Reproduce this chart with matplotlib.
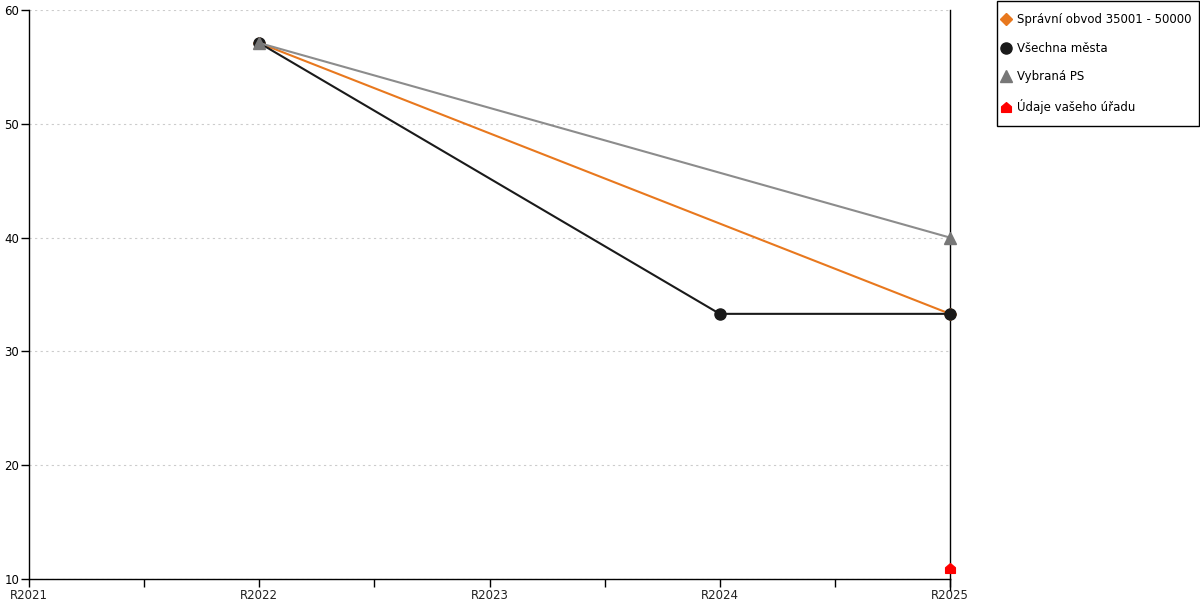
import numpy as np
import matplotlib.pyplot as plt
from matplotlib.path import Path
from matplotlib.patches import Rectangle

years = [2021, 2022, 2023, 2024, 2025]
year_labels = ['R2021', 'R2022', 'R2023', 'R2024', 'R2025']

# Správní obvod 35001 - 50000
obvod_x = [2022, 2025]
obvod_y = [57.1, 33.3]
# Všechna města
mesta_x = [2022, 2024, 2025]
mesta_y = [57.1, 33.3, 33.3]
# Vybraná PS
ps_x = [2022, 2025]
ps_y = [57.1, 40.0]
# Údaje vašeho úřadu
urad_x = [2025]
urad_y = [11.0]

house = Path([(-1, -1), (1, -1), (1, 0.15), (0, 1), (-1, 0.15), (-1, -1)],
             [Path.MOVETO, Path.LINETO, Path.LINETO, Path.LINETO, Path.LINETO, Path.CLOSEPOLY])

plt.rcParams['font.family'] = ['DejaVu Sans']
fig = plt.figure(figsize=(12, 6), dpi=100)
ax = fig.add_axes([29/1200, 1-579/600, (950-29)/1200, (579-10)/600])

ax.plot(obvod_x, obvod_y, color='#e8781e', lw=1.5, marker='D', ms=6,
        label='Správní obvod 35001 - 50000', clip_on=False, zorder=3)
ax.plot(mesta_x, mesta_y, color='#1a1a1a', lw=1.5, marker='o', ms=8,
        label='Všechna města', clip_on=False, zorder=3)
ax.plot(ps_x, ps_y, color='#8c8c8c', lw=1.5, marker='^', ms=8,
        mfc='#777777', mec='#777777', label='Vybraná PS', clip_on=False, zorder=3)
ax.plot(urad_x, urad_y, color='#ff0000', lw=0, marker=house, ms=7,
        label='Údaje vašeho úřadu', clip_on=False, zorder=5)

ax.set_xlim(2021, 2025)
ax.set_ylim(10, 60)
ax.set_xticks(years)
ax.set_xticklabels(year_labels)
ax.set_xticks([2021.5, 2022.5, 2023.5, 2024.5], minor=True)
ax.set_yticks([10, 20, 30, 40, 50, 60])
ax.tick_params(axis='both', which='both', direction='out', length=6, width=1,
               labelsize=8.5, pad=1, colors='black')
ax.tick_params(axis='y', which='both', right=False)
for t in ax.get_xticklabels():
    t.set_color('#222222')
ax.grid(axis='y', color='#cccccc', linestyle=(0, (2, 3)), lw=0.8)
ax.spines['top'].set_visible(False)
for s in ['left', 'bottom', 'right']:
    ax.spines[s].set_linewidth(1)
    ax.spines[s].set_color('black')
# the R2025 tick runs below the axis as an extension of the right spine
ax.plot([2025, 2025], [10, 9.0], color='black', lw=1, clip_on=False)

# legend frame drawn by hand so its size matches the reference
fig.patches.append(Rectangle((997/1200, 1-126/600), 202/1200, 125/600,
                             transform=fig.transFigure, fill=False,
                             edgecolor='black', lw=1))
leg = fig.legend(loc='upper left', bbox_to_anchor=(1002.5/1200, 1-13/600),
                 frameon=False, fontsize=8.5, labelspacing=1.33,
                 handlelength=0.6, handletextpad=0.64, borderpad=0,
                 borderaxespad=0, markerscale=1.0)
for h in leg.legend_handles:
    h.set_linestyle('None')

fig.savefig('out.png', dpi=100)
